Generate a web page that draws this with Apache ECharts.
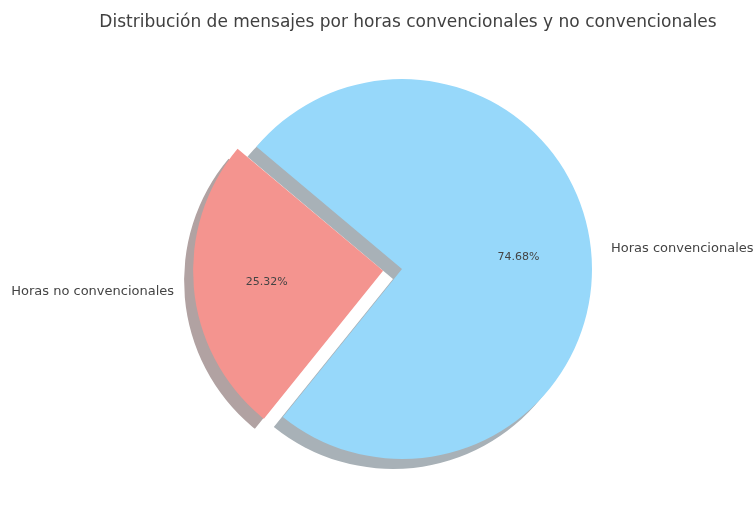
<!DOCTYPE html>
<html>
<head>
<meta charset="utf-8">
<script src="https://cdn.jsdelivr.net/npm/echarts@6/dist/echarts.min.js"></script>
<style>html,body{margin:0;padding:0;background:#fff}#c{width:756px;height:510px}</style>
</head>
<body>
<div id="c"></div>
<script>
const titleText = 'Distribución de mensajes por horas convencionales y no convencionales';
const categories = ['Horas no convencionales', 'Horas convencionales'];
const values = [25.32, 74.68];
const colors = ['#f4948f', '#97d8fa'];
const shadowColors = ['#b1a2a2', '#a8b1b7'];
const explode = [true, false];

const CX = 402, CY = 269, R = 190, OFF = 19;
const SHX = -9, SHY = 10;
const FONT = 'DejaVu Sans';

function mk(colorArr) {
  return categories.map((n, i) => ({
    name: n, value: values[i], selected: explode[i],
    itemStyle: { color: colorArr ? colorArr[i] : 'rgba(0,0,0,0)' }
  }));
}
const common = {
  type: 'pie', startAngle: 140, clockwise: false,
  selectedMode: 'multiple', selectedOffset: OFF,
  avoidLabelOverlap: false, animation: false,
  emphasis: { disabled: true, scale: false },
  select: { itemStyle: {} },
  labelLine: { show: false },
  percentPrecision: 2
};

const chart = echarts.init(document.getElementById('c'), null, { renderer: 'canvas' });
chart.setOption({
  backgroundColor: '#ffffff',
  title: {
    text: titleText, left: 403, top: 9, textAlign: 'center',
    textStyle: { fontFamily: FONT, fontSize: 17, fontWeight: 'normal', color: '#404040' }
  },
  series: [
    Object.assign({}, common, {
      name: 'shadow', z: 1, silent: true,
      center: [CX + SHX, CY + SHY], radius: R,
      label: { show: false },
      data: mk(shadowColors)
    }),
    Object.assign({}, common, {
      name: 'main', z: 2, silent: true,
      center: [CX, CY], radius: R,
      label: {
        show: true, position: 'outside', formatter: '{b}',
        fontFamily: FONT, fontSize: 13, color: '#444444',
        distanceToLabelLine: 0, alignTo: 'none'
      },
      labelLine: { show: false, length: R * 0.1 + 1, length2: 0 },
      data: mk(colors)
    }),
    Object.assign({}, common, {
      name: 'pct', z: 3, silent: true,
      center: [CX, CY], radius: R * 1.2,
      label: {
        show: true, position: 'inner', formatter: '{d}%',
        fontFamily: FONT, fontSize: 11, color: '#444444'
      },
      data: mk(null)
    })
  ]
});
</script>
</body>
</html>
